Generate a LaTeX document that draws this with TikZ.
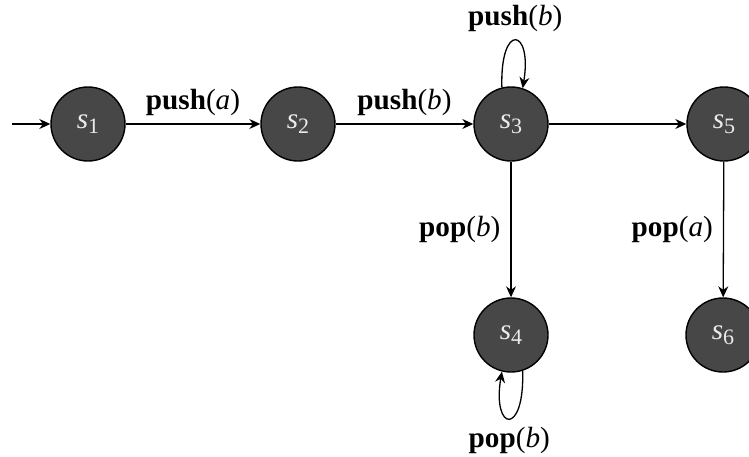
\documentclass[tikz,border=0pt]{standalone}
\usepackage{fontspec}
\setmainfont{Liberation Serif}
\usetikzlibrary{arrows.meta}
\newcommand{\stname}[1]{\textit{s}\raisebox{-0.4ex}{\fontsize{11}{11}\selectfont #1}}
\newcommand{\act}[2]{\textbf{#1}(\textit{#2})}
\begin{document}
\begin{tikzpicture}[x=0.5pt,y=-0.5pt,
  font=\fontsize{14.6}{17}\selectfont,
  state/.style={circle,draw=black,line width=0.7pt,fill=black!72,text=black!8,minimum size=37pt,inner sep=0pt},
  edge/.style={-{Stealth[length=5.5pt,width=5pt,inset=1.8pt]},line width=0.65pt},
  lbl/.style={inner sep=2pt}]
\useasboundingbox (0,0) rectangle (749,456);
\node[state] (s1) at (88,124) {\stname{1}};
\node[state] (s2) at (298,124) {\stname{2}};
\node[state] (s3) at (511,124) {\stname{3}};
\node[state] (s5) at (724,124) {\stname{5}};
\node[state] (s4) at (511,335) {\stname{4}};
\node[state] (s6) at (723,335) {\stname{6}};
\coordinate (start) at (12,124);
\draw[edge] (start) -- (s1);
\draw[edge] (s1) -- node[lbl,above=2pt] {\act{push}{a}} (s2);
\draw[edge] (s2) -- node[lbl,above=2pt] {\act{push}{b}} (s3);
\draw[edge] (s3) -- (s5);
\draw[edge] (s3) -- node[lbl,left=3pt] {\act{pop}{b}} (s4);
\draw[edge] (s5) -- node[lbl,left=3pt] {\act{pop}{a}} (s6);
\draw[edge] (s3.104) .. controls +(-2,-66) and +(10,-60) .. node[lbl,above=2pt] {\act{push}{b}} (s3.72);
\draw[edge] (s4.-72) .. controls +(2,66) and +(-10,60) .. node[lbl,below=2pt] {\act{pop}{b}} (s4.-104);
\end{tikzpicture}
\end{document}
